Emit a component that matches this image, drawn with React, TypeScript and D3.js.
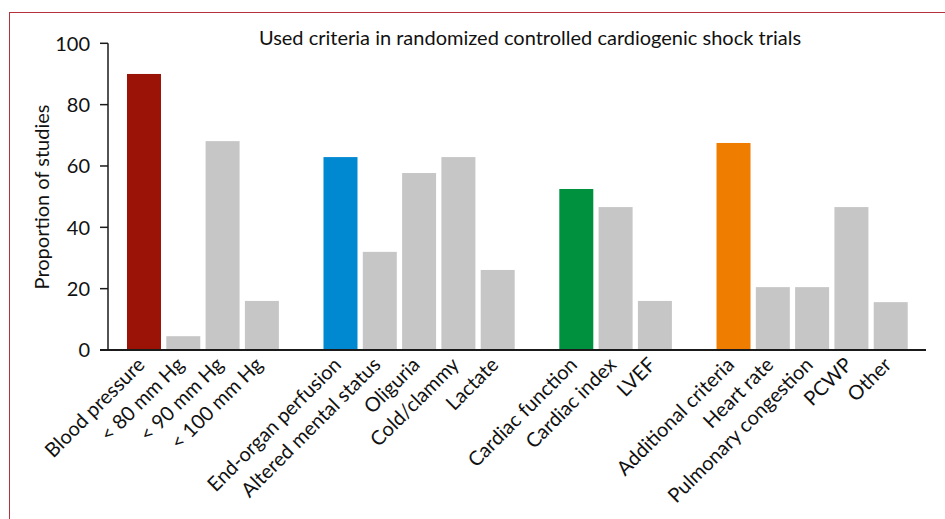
import React from "react";
import * as d3 from "d3";

const categories = [
  "Blood pressure", "< 80 mm Hg", "< 90 mm Hg", "< 100 mm Hg",
  "End-organ perfusion", "Altered mental status", "Oliguria", "Cold/clammy", "Lactate",
  "Cardiac function", "Cardiac index", "LVEF",
  "Additional criteria", "Heart rate", "Pulmonary congestion", "PCWP", "Other",
];
const values = [90.0, 4.5, 68.1, 16.0, 62.9, 32.0, 57.7, 62.9, 26.1, 52.5, 46.6, 16.0, 67.5, 20.5, 20.5, 46.6, 15.6];
const groupOf = [0, 0, 0, 0, 1, 1, 1, 1, 1, 2, 2, 2, 3, 3, 3, 3, 3];
const groupHeads = ["Blood pressure", "End-organ perfusion", "Cardiac function", "Additional criteria"];
const headColors = ["#9b1207", "#0088d1", "#00913f", "#ef7d00"];
const otherColor = "#c6c6c6";
const yTicks = [0, 20, 40, 60, 80, 100];
const title = "Used criteria in randomized controlled cardiogenic shock trials";
const yLabel = "Proportion of studies";

const FONT = "Lato, 'Open Sans', sans-serif";

export default function App() {
  // slots include a blank slot between groups
  const slots: string[] = [];
  categories.forEach((c, i) => {
    if (i > 0 && groupOf[i] !== groupOf[i - 1]) slots.push("gap" + i);
    slots.push(c);
  });
  const x = d3.scaleBand<string>().domain(slots).range([108, 926.7]).paddingInner(0.135).paddingOuter(0.483);
  const y = d3.scaleLinear().domain([0, 100]).range([350, 43.3]);
  const axisColor = "#1a1a1a";

  return (
    <svg width={945} height={519} style={{ position: "absolute", left: 0, top: 0, background: "#fff" }} fontFamily={FONT}>
      <rect x={9.5} y={12.5} width={1000} height={600} fill="none" stroke="#b5323c" strokeWidth={1} />
      <text x={530} y={45} textAnchor="middle" fontSize={20} fill="#111">{title}</text>
      {categories.map((c, i) => {
        const head = groupHeads.indexOf(c);
        return (
          <rect key={c} x={x(c)} y={y(values[i])} width={x.bandwidth()} height={y(0) - y(values[i])}
            fill={head >= 0 ? headColors[head] : otherColor} />
        );
      })}
      <line x1={108} x2={108} y1={y(100)} y2={y(0)} stroke={axisColor} strokeWidth={1.5} />
      <line x1={100} x2={926} y1={y(0)} y2={y(0)} stroke={axisColor} strokeWidth={1.8} />
      {yTicks.map((t) => (
        <g key={t}>
          <line x1={100} x2={108} y1={y(t)} y2={y(t)} stroke={axisColor} strokeWidth={1.5} />
          <text x={90} y={y(t)} dy="0.36em" textAnchor="end" fontSize={20} fill="#111">{t}</text>
        </g>
      ))}
      <text transform={`translate(49,197) rotate(-90)`} textAnchor="middle" fontSize={20} fill="#111">{yLabel}</text>
      {categories.map((c) => {
        const cx = (x(c) as number) + x.bandwidth() / 2;
        return (
          <text key={c} transform={`translate(${cx + 2},366) rotate(-45)`} textAnchor="end" fontSize={20} fill="#111">{c}</text>
        );
      })}
    </svg>
  );
}
